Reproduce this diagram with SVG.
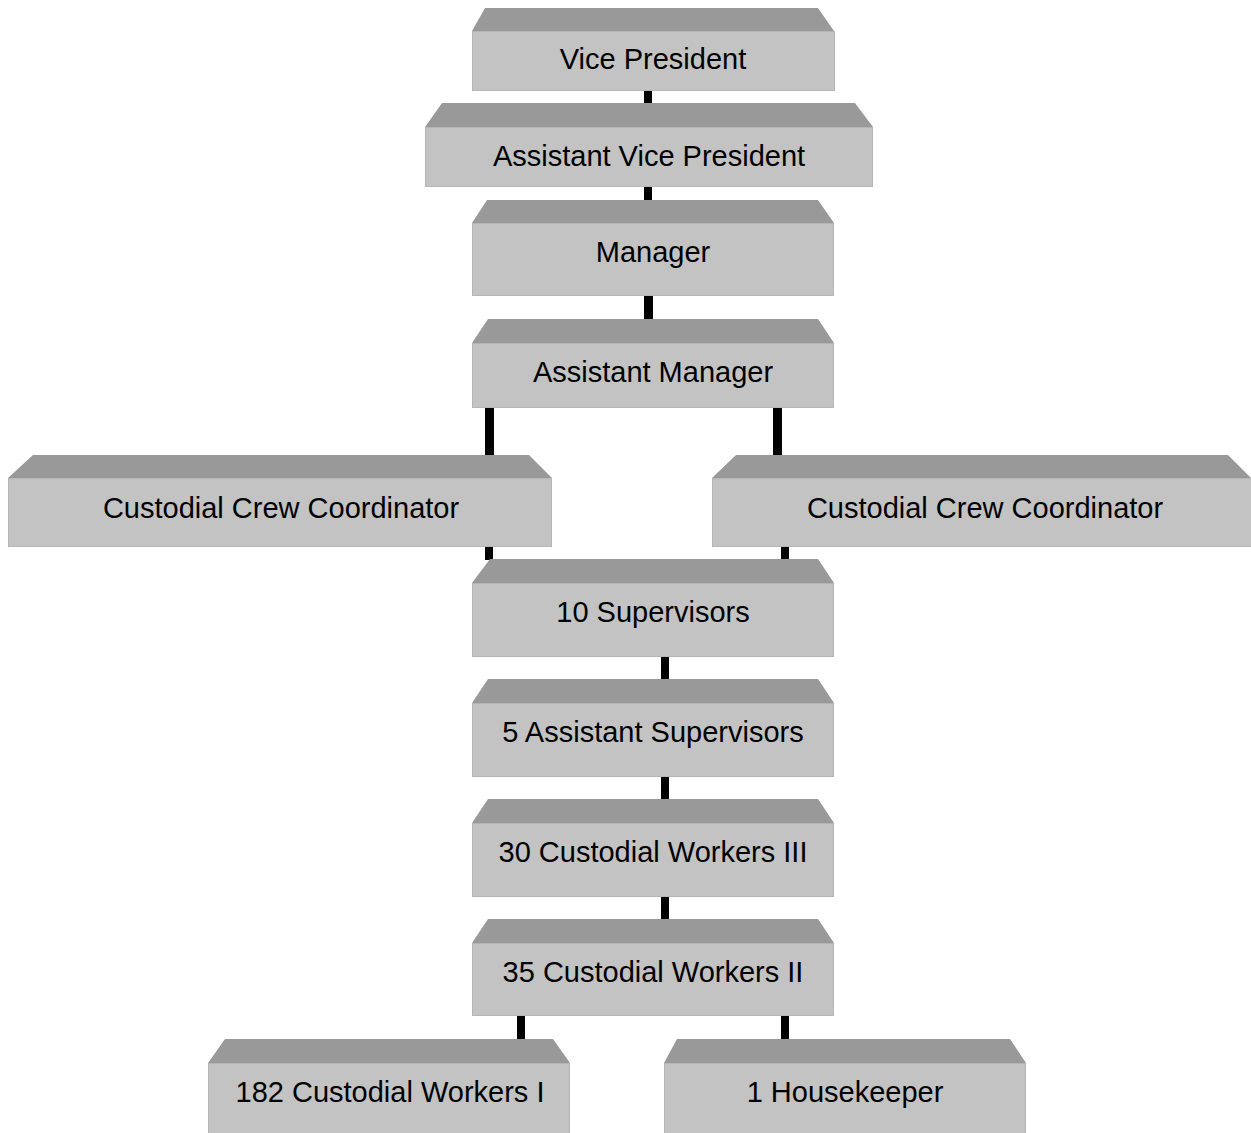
<svg xmlns="http://www.w3.org/2000/svg" width="1251" height="1133" viewBox="0 0 1251 1133">
<style>
.top{fill:#999999;}
.front{fill:#c3c3c3;stroke:#b5b5b5;stroke-width:1;}
.lbl{font-family:"Liberation Sans",Arial,sans-serif;font-size:29px;fill:#000;text-anchor:middle;}
.conn{fill:#000;}
</style>
<rect width="1251" height="1133" fill="#ffffff"/>
<g id="connectors">
<rect class="conn" x="644" y="90" width="8" height="14"/>
<rect class="conn" x="644" y="186" width="8" height="15"/>
<rect class="conn" x="644" y="295" width="9" height="25"/>
<rect class="conn" x="485" y="407" width="9" height="49"/>
<rect class="conn" x="773" y="407" width="9" height="49"/>
<rect class="conn" x="485" y="546" width="8" height="14"/>
<rect class="conn" x="781" y="546" width="8" height="14"/>
<rect class="conn" x="661" y="656" width="8" height="24"/>
<rect class="conn" x="661" y="776" width="8" height="24"/>
<rect class="conn" x="661" y="896" width="8" height="24"/>
<rect class="conn" x="517" y="1015" width="8" height="25"/>
<rect class="conn" x="781" y="1015" width="8" height="25"/>
</g>
<g id="vp">
<polygon class="top" points="485,8 818,8 834,31 472,31"/>
<rect class="front" x="472.5" y="31.5" width="362" height="59"/>
<text class="lbl" x="653" y="69">Vice President</text>
</g>
<g id="avp">
<polygon class="top" points="442,103 855,103 873,127 425,127"/>
<rect class="front" x="425.5" y="127.5" width="447" height="59"/>
<text class="lbl" x="649" y="166">Assistant Vice President</text>
</g>
<g id="manager">
<polygon class="top" points="487,200 818,200 834,223 472,223"/>
<rect class="front" x="472.5" y="223.5" width="361" height="72"/>
<text class="lbl" x="653" y="262">Manager</text>
</g>
<g id="asst-manager">
<polygon class="top" points="488,319 818,319 834,343 472,343"/>
<rect class="front" x="472.5" y="343.5" width="361" height="64"/>
<text class="lbl" x="653" y="382">Assistant Manager</text>
</g>
<g id="ccc-left">
<polygon class="top" points="33,455 529,455 552,478 8,478"/>
<rect class="front" x="8.5" y="478.5" width="543" height="68"/>
<text class="lbl" x="281" y="518">Custodial Crew Coordinator</text>
</g>
<g id="ccc-right">
<polygon class="top" points="736,455 1228,455 1251,478 712,478"/>
<rect class="front" x="712.5" y="478.5" width="540" height="68"/>
<text class="lbl" x="985" y="518">Custodial Crew Coordinator</text>
</g>
<g id="supervisors">
<polygon class="top" points="490,559 818,559 834,583 472,583"/>
<rect class="front" x="472.5" y="583.5" width="361" height="73"/>
<text class="lbl" x="653" y="622">10 Supervisors</text>
</g>
<g id="asst-supervisors">
<polygon class="top" points="488,679 818,679 834,703 472,703"/>
<rect class="front" x="472.5" y="703.5" width="361" height="73"/>
<text class="lbl" x="653" y="742">5 Assistant Supervisors</text>
</g>
<g id="cw3">
<polygon class="top" points="488,799 818,799 834,823 472,823"/>
<rect class="front" x="472.5" y="823.5" width="361" height="73"/>
<text class="lbl" x="653" y="862">30 Custodial Workers III</text>
</g>
<g id="cw2">
<polygon class="top" points="488,919 818,919 834,943 472,943"/>
<rect class="front" x="472.5" y="943.5" width="361" height="72"/>
<text class="lbl" x="653" y="982">35 Custodial Workers II</text>
</g>
<g id="cw1">
<polygon class="top" points="225,1039 553,1039 570,1063 208,1063"/>
<rect class="front" x="208.5" y="1063.5" width="361" height="75"/>
<text class="lbl" x="390" y="1102">182 Custodial Workers I</text>
</g>
<g id="housekeeper">
<polygon class="top" points="677,1039 1010,1039 1026,1063 664,1063"/>
<rect class="front" x="664.5" y="1063.5" width="361" height="75"/>
<text class="lbl" x="845" y="1102">1 Housekeeper</text>
</g>
</svg>
